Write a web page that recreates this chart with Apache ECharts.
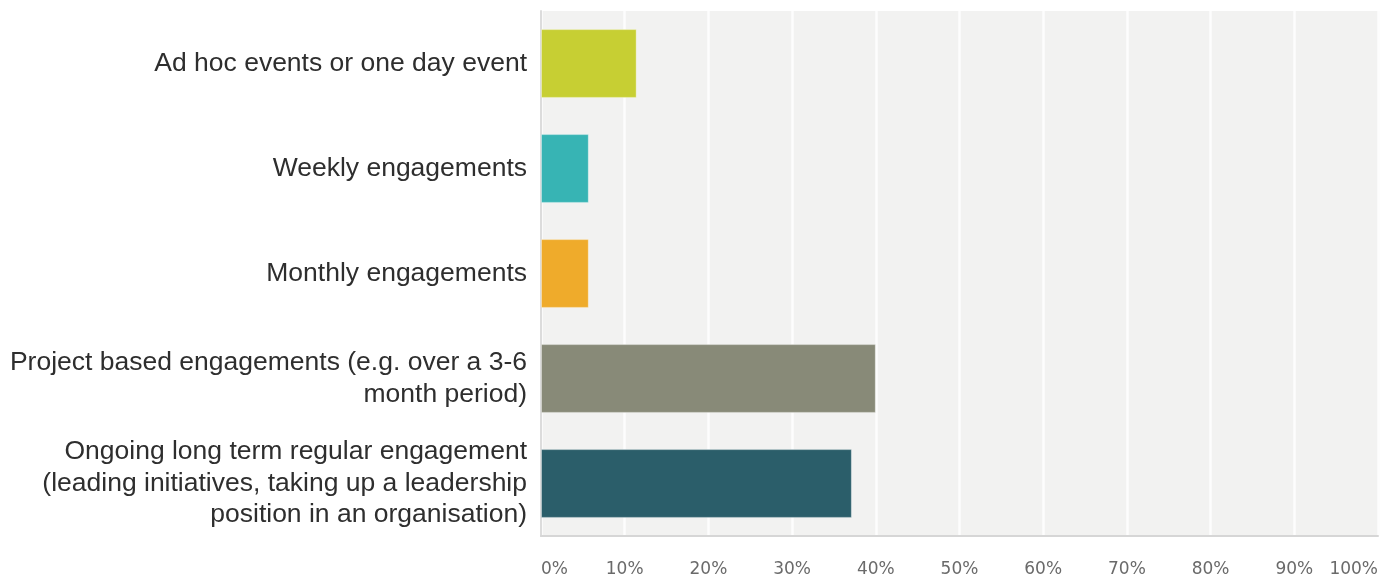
<!DOCTYPE html>
<html>
<head>
<meta charset="utf-8">
<style>
  html, body { margin: 0; padding: 0; background: #ffffff; }
  #chart { width: 1381px; height: 578px; }
</style>
<script src="https://cdn.jsdelivr.net/npm/echarts@6/dist/echarts.min.js"></script>
</head>
<body>
<div id="chart"></div>
<script>
// Survey answer options (top to bottom)
const categories = [
  'Ad hoc events or one day event',
  'Weekly engagements',
  'Monthly engagements',
  'Project based engagements (e.g. over a 3-6\nmonth period)',
  'Ongoing long term regular engagement\n(leading initiatives, taking up a leadership\nposition in an organisation)'
];

// Share of respondents, percent
const shares = [11.43, 5.71, 5.71, 40.00, 37.14];

// Axis range and tick step, percent
const axisMin = 0;
const axisMax = 100;
const axisStep = 10;

// One fill per answer option
const palette = ['#c7cf33', '#37b4b4', '#efab2b', '#888a78', '#2b5e6a'];

const chart = echarts.init(document.getElementById('chart'), null, { renderer: 'canvas' });

chart.setOption({
  animation: false,
  grid: {
    left: 541,
    right: -2,
    top: 11,
    bottom: 40,
    show: true,
    backgroundColor: '#f2f2f1',
    borderWidth: 0
  },
  xAxis: {
    type: 'value',
    min: axisMin,
    max: axisMax,
    interval: axisStep,
    axisLine: { show: true, lineStyle: { color: '#d6d6d6', width: 2 } },
    axisTick: { show: false },
    splitLine: { show: true, lineStyle: { color: '#fdfdfd', width: 2.5 } },
    axisLabel: {
      formatter: '{value}%',
      color: '#6a6a6a',
      fontFamily: 'DejaVu Sans',
      fontSize: 17,
      margin: 25,
      alignMinLabel: 'left',
      alignMaxLabel: 'right'
    }
  },
  yAxis: {
    type: 'category',
    inverse: true,
    data: categories,
    axisLine: { show: true, lineStyle: { color: '#dcdcdc', width: 2 } },
    axisTick: { show: false },
    splitLine: { show: false },
    axisLabel: {
      color: '#2e2e2e',
      fontFamily: 'Liberation Sans, Arial, sans-serif',
      fontSize: 26.5,
      lineHeight: 31.5,
      margin: 14,
      align: 'right'
    }
  },
  series: [{
    type: 'bar',
    barCategoryGap: '34.5%',
    data: shares.map((v, i) => ({
      value: v,
      itemStyle: {
        color: palette[i],
        borderColor: 'rgba(255,255,255,0.35)',
        borderWidth: 1
      }
    }))
  }]
});
</script>
</body>
</html>
